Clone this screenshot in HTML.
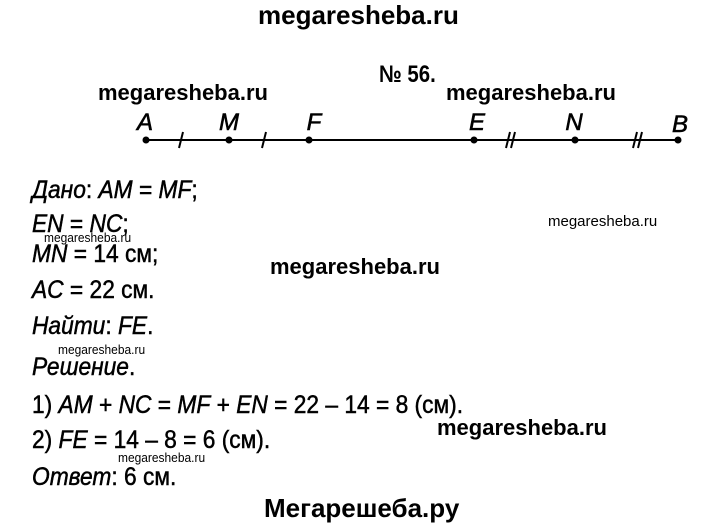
<!DOCTYPE html>
<html><head><meta charset="utf-8"><style>
body{margin:0;width:720px;height:529px;background:#fff;position:relative;overflow:hidden;font-family:"Liberation Sans",sans-serif;color:#000}
.t{position:absolute;font-size:25px;line-height:25px;white-space:nowrap;transform:scaleX(0.91);transform-origin:left top;-webkit-text-stroke:0.5px #000}
i{font-style:italic}
.w{position:absolute;font-weight:bold;white-space:nowrap;line-height:1}
.s{position:absolute;font-size:13px;white-space:nowrap;line-height:1;transform:scaleX(0.92);transform-origin:left top}
</style></head><body>
<div class="w" style="left:258px;top:2px;font-size:26px">megaresheba.ru</div>
<div class="w" style="left:379px;top:63px;font-size:24px;transform:scaleX(0.85);transform-origin:left top">№ 56.</div>
<div class="w" style="left:98px;top:82px;font-size:22px">megaresheba.ru</div>
<div class="w" style="left:446px;top:82px;font-size:22px">megaresheba.ru</div>
<svg style="position:absolute;left:0;top:0" width="720" height="529">
<line x1="146" y1="140" x2="678" y2="140" stroke="#000" stroke-width="2"/>
<g fill="#000"><circle cx="146" cy="140" r="3.5"/><circle cx="229" cy="140" r="3.5"/><circle cx="309" cy="140" r="3.5"/><circle cx="474" cy="140" r="3.5"/><circle cx="575" cy="140" r="3.5"/><circle cx="678" cy="140" r="3.5"/></g>
<g stroke="#000" stroke-width="2"><line x1="183" y1="132" x2="179" y2="148"/><line x1="266" y1="132" x2="262" y2="148"/>
<line x1="478" y1="132" x2="474" y2="148" transform="translate(32,0)"/><line x1="478" y1="132" x2="474" y2="148" transform="translate(37,0)"/>
<line x1="478" y1="132" x2="474" y2="148" transform="translate(159,0)"/><line x1="478" y1="132" x2="474" y2="148" transform="translate(164,0)"/></g>
<g font-family="Liberation Sans" font-style="italic" font-size="24" text-anchor="middle" stroke="#000" stroke-width="0.6"><text x="145" y="130">A</text><text x="229" y="130">M</text><text x="314" y="130">F</text><text x="477" y="130">E</text><text x="574" y="130">N</text><text x="680" y="132">B</text></g>
</svg>
<div class="t" style="left:32px;top:178px"><i>Дано</i>: <i>AM</i> = <i>MF</i>;</div>
<div class="t" style="left:32px;top:212px"><i>EN</i> = <i>NC</i>;</div>
<div class="s" style="left:44px;top:231px">megaresheba.ru</div>
<div class="s" style="left:548px;top:214px;font-size:15px;transform:none">megaresheba.ru</div>
<div class="t" style="left:32px;top:242px"><i>MN</i> = 14 см;</div>
<div class="w" style="left:270px;top:256px;font-size:22px">megaresheba.ru</div>
<div class="t" style="left:32px;top:278px"><i>AC</i> = 22 см.</div>
<div class="t" style="left:32px;top:314px"><i>Найти</i>: <i>FE</i>.</div>
<div class="s" style="left:58px;top:343px">megaresheba.ru</div>
<div class="t" style="left:32px;top:355px"><i>Решение</i>.</div>
<div class="t" style="left:32px;top:393px">1) <i>AM</i> + <i>NC</i> = <i>MF</i> + <i>EN</i> = 22 – 14 = 8 (см).</div>
<div class="w" style="left:437px;top:417px;font-size:22px">megaresheba.ru</div>
<div class="t" style="left:32px;top:428px">2) <i>FE</i> = 14 – 8 = 6 (см).</div>
<div class="s" style="left:118px;top:451px">megaresheba.ru</div>
<div class="t" style="left:32px;top:465px"><i>Ответ</i>: 6 см.</div>
<div class="w" style="left:264px;top:495px;font-size:26px">Мегарешеба.ру</div>
</body></html>
